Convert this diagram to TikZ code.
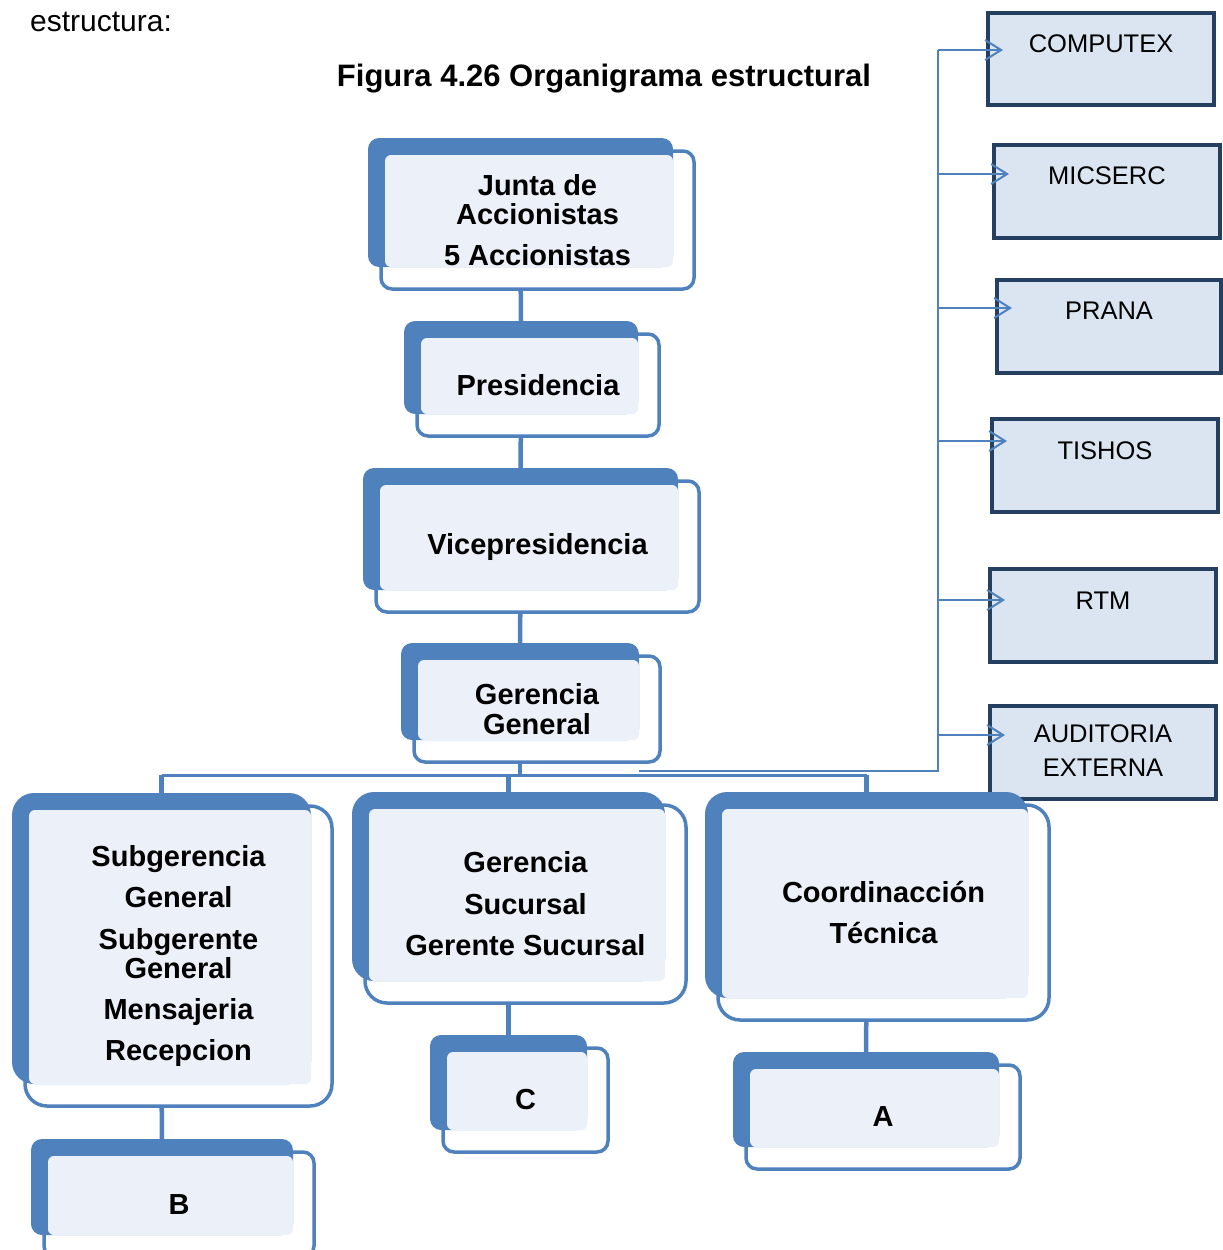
\documentclass[tikz,border=0pt]{standalone}
\usepackage{fontspec}
\setmainfont{Liberation Sans}
\usetikzlibrary{arrows.meta,calc,fit}

\definecolor{orgblue}{HTML}{4F81BD}
\definecolor{orglight}{HTML}{ECF1F9}
\definecolor{extfill}{HTML}{DBE5F1}
\definecolor{extedge}{HTML}{243F60}

\pgfdeclarelayer{background}
\pgfsetlayers{background,main}

\tikzset{
  unitframe/.style={draw=orgblue, line width=3.5pt, fill=white, inner sep=0pt, outer sep=0pt},
  unitback/.style={fill=orgblue, inner sep=0pt, outer sep=0pt},
  unitface/.style={fill=orglight, rounded corners=6pt, inner sep=0pt, outer sep=0pt},
  unittext/.style={font=\bfseries\fontsize{29}{29}\selectfont, align=center, inner sep=0pt, text=black},
  link/.style={draw=orgblue, line width=4.5pt},
  busline/.style={draw=orgblue, line width=3pt},
  rail/.style={draw=orgblue, line width=2pt},
  extbox/.style={draw=extedge, line width=4pt, fill=extfill, inner sep=0pt, outer sep=0pt},
  exttext/.style={font=\fontsize{25.5}{34}\selectfont, align=center, inner sep=0pt, text=black},
  feed/.style={draw=orgblue, line width=1.8pt,
    -{Straight Barb[length=16pt,width=20pt,line width=2pt]}},
}

% One unit of the chart: white outlined card behind, blue card, pale face, label.
% #1 name, #2--#5 corners of the blue card, #6 corner radius, #7 label
\newcommand\orgunit[7]{%
  \pgfmathsetmacro\ufa{#2+13}\pgfmathsetmacro\ufb{#3+13}%
  \pgfmathsetmacro\ufc{#4+21}\pgfmathsetmacro\ufd{#5+22}%
  \pgfmathsetmacro\uga{#2+17}\pgfmathsetmacro\ugb{#3+17}%
  \node[unitframe, rounded corners=#6pt, fit={(\ufa,\ufb) (\ufc,\ufd)}] (#1-o) {};
  \node[unitback, rounded corners=#6pt, fit={(#2,#3) (#4,#5)}] (#1-b) {};
  \node[unitface, fit={(\uga,\ugb) (#4,#5)}] (#1-f) {};
  \node[unittext] (#1) at (#1-o.center) {#7};
}

\begin{document}
\begin{tikzpicture}[x=1pt, y=-1pt]
\useasboundingbox (0,0) rectangle (1223,1250);

% headings
\node[anchor=base west, inner sep=0pt, font=\fontsize{30}{30}\selectfont] (lead) at (30,31) {estructura:};
\node[anchor=base, inner sep=0pt, font=\bfseries\fontsize{31}{31}\selectfont] (title) at (604,86) {Figura 4.26 Organigrama estructural};

% external companies
\node[extbox, fit={(988,13) (1214,105)}] (cx) {};
\node[exttext] (cx-t) at ($(cx.north)+(0,31)$) {COMPUTEX};
\node[extbox, fit={(994,145) (1220,238)}] (mi) {};
\node[exttext] (mi-t) at ($(mi.north)+(0,31)$) {MICSERC};
\node[extbox, fit={(997,280) (1221,373)}] (pr) {};
\node[exttext] (pr-t) at ($(pr.north)+(0,31)$) {PRANA};
\node[extbox, fit={(992,419) (1218,512)}] (ti) {};
\node[exttext] (ti-t) at ($(ti.north)+(0,32)$) {TISHOS};
\node[extbox, fit={(990,569) (1216,662)}] (rt) {};
\node[exttext] (rt-t) at ($(rt.north)+(0,32)$) {RTM};
\node[extbox, fit={(990,706) (1216,799)}] (au) {};
\node[exttext] (au-t) at ($(au.north)+(0,45)$) {AUDITORIA\\EXTERNA};

% main hierarchy
\orgunit{jun}{368}{138}{673}{267}{11}{Junta de\\Accionistas\\[12pt]5 Accionistas}
\orgunit{pre}{404}{321}{638}{414}{11}{Presidencia}
\orgunit{vic}{363}{468}{678}{590}{11}{Vicepresidencia}
\orgunit{gg}{401}{643}{639}{740}{11}{Gerencia\\[1pt]General}
\orgunit{sub}{12}{793}{311}{1084}{22}{Subgerencia\\[12pt]General\\[13pt]Subgerente\\General\\[12pt]Mensajeria\\[12pt]Recepcion}
\orgunit{suc}{352}{792}{665}{981}{22}{Gerencia\\[13pt]Sucursal\\[12pt]Gerente Sucursal}
\orgunit{coo}{705}{792}{1028}{998}{22}{Coordinacción\\[12pt]Técnica}
\orgunit{nB}{31}{1139}{293}{1235}{11}{B}
\orgunit{nC}{430}{1035}{587}{1130}{11}{C}
\orgunit{nA}{733}{1052}{999}{1147}{11}{A}

% rail to the external companies
\coordinate (railfoot) at (938,771);
\coordinate (railtop) at (938,50);
\draw[rail] (gg-b.east |- railfoot) -- (railfoot) -- (railtop);
\draw[feed] (railtop) -- ($(cx.west |- railtop)+(15,0)$);
\draw[feed] (railtop |- 0,174) -- ($(mi.west |- 0,174)+(15,0)$);
\draw[feed] (railtop |- 0,308) -- ($(pr.west |- 0,308)+(15,0)$);
\draw[feed] (railtop |- 0,441) -- ($(ti.west |- 0,441)+(15,0)$);
\draw[feed] (railtop |- 0,600) -- ($(rt.west |- 0,600)+(15,0)$);
\draw[feed] (railtop |- 0,735) -- ($(au.west |- 0,735)+(15,0)$);

% reporting lines
\coordinate (bus) at (0,775);
\begin{pgfonlayer}{background}
  \draw[link] (jun-b.south) -- (pre-b.north);
  \draw[link] (pre-b.south) -- (vic-b.north);
  \draw[link] (vic-b.south) -- (gg-b.north);
  \draw[link] (gg-b.south) -- (gg-b.south |- bus);
  \draw[busline] (sub-b.north |- bus) -- (coo-b.north |- bus);
  \draw[link] (sub-b.north) -- (sub-b.north |- bus);
  \draw[link] (suc-b.north) -- (suc-b.north |- bus);
  \draw[link] (coo-b.north) -- (coo-b.north |- bus);
  \draw[link] (sub-b.south) -- (nB-b.north);
  \draw[link] (suc-b.south) -- (nC-b.north);
  \draw[link] (coo-b.south) -- (nA-b.north);
\end{pgfonlayer}
\end{tikzpicture}
\end{document}
